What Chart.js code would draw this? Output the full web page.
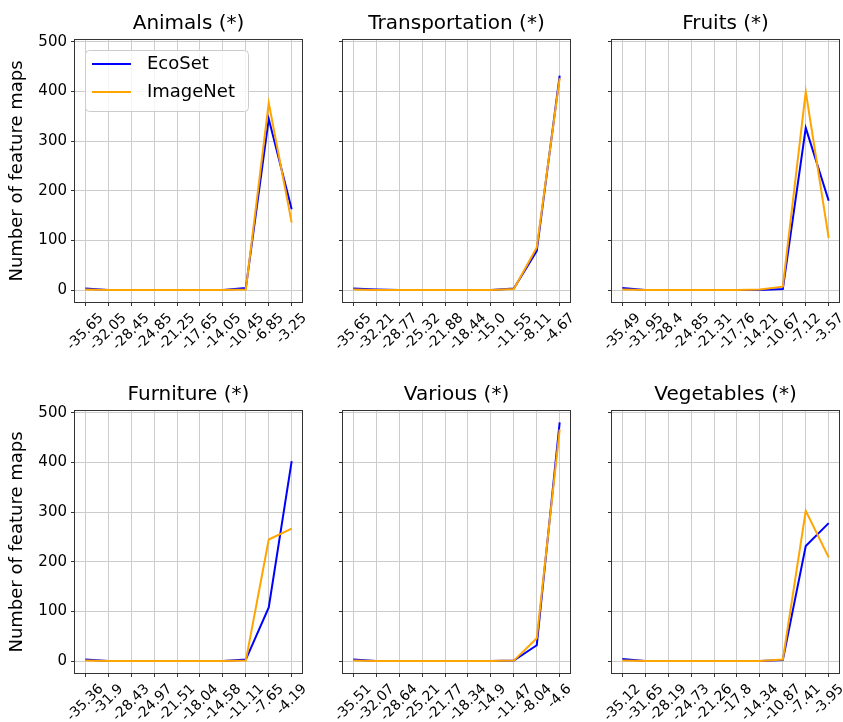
<!DOCTYPE html>
<html>
<head>
<meta charset="utf-8">
<script src="https://cdn.jsdelivr.net/npm/chart.js@4.4.1/dist/chart.umd.min.js"></script>
<style>
  html, body { margin: 0; padding: 0; background: #fff; overflow: hidden; }
  body { width: 843px; height: 722px; position: relative; }
  canvas { position: absolute; }
</style>
</head>
<body>
<canvas id="c0"></canvas>
<canvas id="c1"></canvas>
<canvas id="c2"></canvas>
<canvas id="c3"></canvas>
<canvas id="c4"></canvas>
<canvas id="c5"></canvas>
<script>
const panelTitles = ['Animals (*)', 'Transportation (*)', 'Fruits (*)', 'Furniture (*)', 'Various (*)', 'Vegetables (*)'];
const seriesNames = ['EcoSet', 'ImageNet'];
const yTicks = [0, 100, 200, 300, 400, 500];

const animalsLabels = ['-35.65', '-32.05', '-28.45', '-24.85', '-21.25', '-17.65', '-14.05', '-10.45', '-6.85', '-3.25'];
const transportationLabels = ['-35.65', '-32.21', '-28.77', '-25.32', '-21.88', '-18.44', '-15.0', '-11.55', '-8.11', '-4.67'];
const fruitsLabels = ['-35.49', '-31.95', '-28.4', '-24.85', '-21.31', '-17.76', '-14.21', '-10.67', '-7.12', '-3.57'];
const furnitureLabels = ['-35.36', '-31.9', '-28.43', '-24.97', '-21.51', '-18.04', '-14.58', '-11.11', '-7.65', '-4.19'];
const variousLabels = ['-35.51', '-32.07', '-28.64', '-25.21', '-21.77', '-18.34', '-14.9', '-11.47', '-8.04', '-4.6'];
const vegetablesLabels = ['-35.12', '-31.65', '-28.19', '-24.73', '-21.26', '-17.8', '-14.34', '-10.87', '-7.41', '-3.95'];

const animalsEcoSet = [3, 0, 0, 0, 0, 0, 0, 4, 345, 163];
const animalsImageNet = [1, 0, 0, 0, 0, 0, 0, 1, 377, 136];
const transportationEcoSet = [3, 1, 0, 0, 0, 0, 0, 3, 79, 432];
const transportationImageNet = [1, 0, 0, 0, 0, 0, 0, 2, 86, 427];
const fruitsEcoSet = [4, 0, 0, 0, 0, 0, 0, 2, 327, 180];
const fruitsImageNet = [1, 0, 0, 0, 0, 0, 1, 7, 400, 105];
const furnitureEcoSet = [3, 0, 0, 0, 0, 0, 0, 3, 108, 403];
const furnitureImageNet = [1, 0, 0, 0, 0, 0, 0, 1, 245, 267];
const variousEcoSet = [3, 0, 0, 0, 0, 0, 0, 1, 32, 481];
const variousImageNet = [1, 0, 0, 0, 0, 0, 0, 1, 46, 467];
const vegetablesEcoSet = [4, 0, 0, 0, 0, 0, 0, 2, 232, 278];
const vegetablesImageNet = [1, 0, 0, 0, 0, 0, 0, 3, 303, 209];

const panels = [
  [animalsLabels, animalsEcoSet, animalsImageNet],
  [transportationLabels, transportationEcoSet, transportationImageNet],
  [fruitsLabels, fruitsEcoSet, fruitsImageNet],
  [furnitureLabels, furnitureEcoSet, furnitureImageNet],
  [variousLabels, variousEcoSet, variousImageNet],
  [vegetablesLabels, vegetablesEcoSet, vegetablesImageNet]
];

const FONT = '"DejaVu Sans", sans-serif';
const boxLeft = [75, 343, 612];
const boxTop = [40, 411];
const boxW = 227, boxH = 262;
const yAxisW = 75, titleH = 36, xAxisH = 62, padR = 14;
const xTickSize = 14;

// axes frame + rotated x tick labels (matplotlib style, centred on the tick)
const framePlugin = {
  id: 'frame',
  afterDatasetsDraw(chart) {
    const { ctx, chartArea: a } = chart;
    ctx.save();
    ctx.strokeStyle = '#333';
    ctx.lineWidth = 1;
    ctx.strokeRect(a.left - 0.5, a.top - 0.5, a.right - a.left + 1, a.bottom - a.top + 1);
    ctx.restore();
  },
  afterDraw(chart) {
    const { ctx, chartArea: a } = chart;
    const xs = chart.scales.x;
    const labels = chart.data.labels;
    ctx.save();
    ctx.font = xTickSize + 'px ' + FONT;
    ctx.fillStyle = '#000';
    ctx.textAlign = 'center';
    ctx.textBaseline = 'middle';
    labels.forEach((t, i) => {
      const px = xs.getPixelForValue(i);
      const w = ctx.measureText(t).width;
      const ext = (w + xTickSize * 1.2) * Math.SQRT1_2;
      const cy = a.bottom + 8 + ext / 2;
      ctx.save();
      ctx.translate(px, cy);
      ctx.rotate(-Math.PI / 4);
      ctx.fillText(t, 0, 0);
      ctx.restore();
    });
    ctx.restore();
  }
};

const legendPlugin = {
  id: 'boxLegend',
  afterDraw(chart) {
    if (chart.canvas.id !== 'c0') return;
    const { ctx } = chart;
    ctx.save();
    ctx.beginPath();
    ctx.roundRect(85.5, 46.5, 163, 61, 4);
    ctx.fillStyle = 'rgba(255,255,255,0.8)';
    ctx.fill();
    ctx.strokeStyle = '#cccccc';
    ctx.lineWidth = 1;
    ctx.stroke();
    chart.data.datasets.forEach((ds, i) => {
      const y = 60 + i * 28;
      ctx.strokeStyle = ds.borderColor;
      ctx.lineWidth = 2;
      ctx.beginPath();
      ctx.moveTo(92, y);
      ctx.lineTo(131, y);
      ctx.stroke();
      ctx.fillStyle = '#000';
      ctx.font = '18px ' + FONT;
      ctx.textBaseline = 'middle';
      ctx.fillText(ds.label, 147, y);
    });
    ctx.restore();
  }
};

panels.forEach((p, i) => {
  const col = i % 3, row = Math.floor(i / 3);
  const canvas = document.getElementById('c' + i);
  canvas.width = yAxisW + boxW + padR;
  canvas.height = titleH + boxH + xAxisH;
  canvas.style.left = (boxLeft[col] - yAxisW) + 'px';
  canvas.style.top = (boxTop[row] - titleH) + 'px';
  const [labels, eco, imnet] = p;

  new Chart(canvas.getContext('2d'), {
    type: 'line',
    data: {
      labels: labels,
      datasets: [
        { label: seriesNames[0], data: eco.map((v, k) => ({ x: k, y: v })), borderColor: '#0000ff', borderWidth: 2, pointRadius: 0, order: 1 },
        { label: seriesNames[1], data: imnet.map((v, k) => ({ x: k, y: v })), borderColor: '#ffa500', borderWidth: 2, pointRadius: 0, order: 0 }
      ]
    },
    options: {
      responsive: false,
      devicePixelRatio: 1,
      animation: false,
      layout: { padding: { left: 0, right: padR, top: 0, bottom: 0 } },
      plugins: {
        legend: { display: false },
        tooltip: { enabled: false },
        title: {
          display: true,
          text: panelTitles[i],
          fullSize: false,
          color: '#000',
          font: { family: FONT, size: 20, weight: 'normal' },
          padding: { top: 8, bottom: 4 }
        }
      },
      scales: {
        x: {
          type: 'linear',
          min: -0.45,
          max: 9.45,
          afterBuildTicks: (s) => { s.ticks = labels.map((_, k) => ({ value: k })); },
          afterFit: (s) => { s.height = xAxisH; },
          ticks: { display: false },
          grid: { color: '#cccccc', lineWidth: 1, tickColor: '#333', tickLength: 4 },
          border: { display: false }
        },
        y: {
          min: -24,
          max: 504,
          afterBuildTicks: (s) => { s.ticks = yTicks.map(v => ({ value: v })); },
          afterFit: (s) => { s.width = yAxisW; },
          ticks: { display: col === 0, color: '#000', padding: 4, font: { family: FONT, size: 15 } },
          grid: { color: '#cccccc', lineWidth: 1, tickColor: '#333', tickLength: 4 },
          border: { display: false },
          title: {
            display: col === 0,
            text: 'Number of feature maps',
            color: '#000',
            font: { family: FONT, size: 18 },
            padding: { top: 7, bottom: 0 }
          }
        }
      }
    },
    plugins: [framePlugin, legendPlugin]
  });
});
</script>
</body>
</html>
